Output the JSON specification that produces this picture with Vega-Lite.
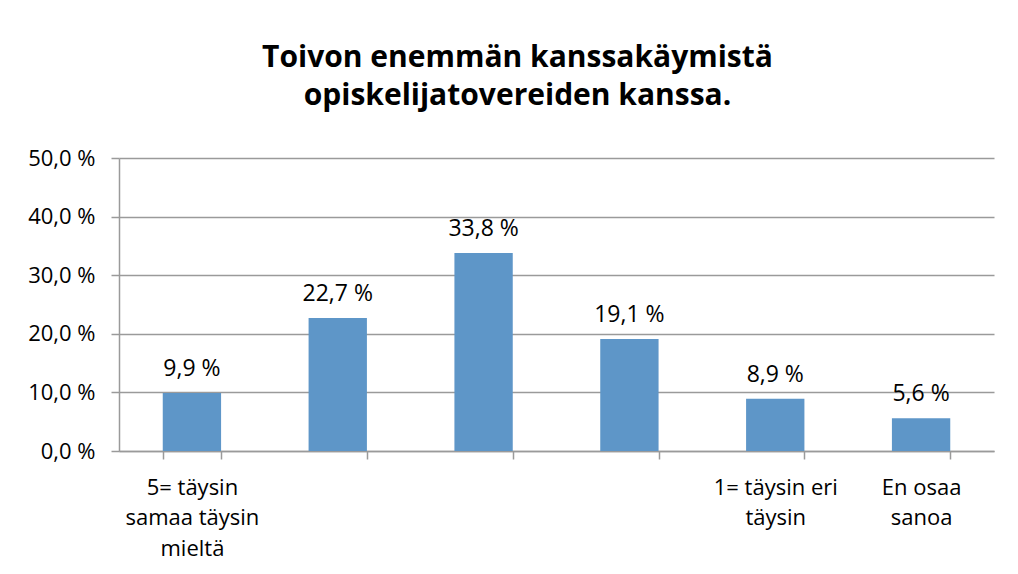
{
  "$schema": "https://vega.github.io/schema/vega-lite/v6.json",
  "width": 875,
  "height": 293,
  "autosize": {"type": "none"},
  "padding": {"left": 119, "top": 158, "right": 24, "bottom": 123},
  "background": "white",
  "title": {
    "text": ["Toivon enemmän kanssakäymistä", "opiskelijatovereiden kanssa."],
    "font": "Open Sans",
    "fontSize": 30,
    "fontWeight": "bold",
    "color": "black",
    "lineHeight": 38,
    "anchor": "middle",
    "offset": 36,
    "dx": -39
  },
  "data": {
    "values": [
      {"cat": "5= täysin|samaa täysin|mieltä", "v": 9.9, "label": "9,9 %"},
      {"cat": "4", "v": 22.7, "label": "22,7 %"},
      {"cat": "3", "v": 33.8, "label": "33,8 %"},
      {"cat": "2", "v": 19.1, "label": "19,1 %"},
      {"cat": "1= täysin eri|täysin", "v": 8.9, "label": "8,9 %"},
      {"cat": "En osaa|sanoa", "v": 5.6, "label": "5,6 %"}
    ]
  },
  "encoding": {
    "x": {
      "field": "cat",
      "type": "nominal",
      "sort": null,
      "scale": {"paddingInner": 0.6, "paddingOuter": 0.3},
      "axis": {
        "title": null,
        "labelAngle": 0,
        "labelExpr": "isString(datum.value) && length(datum.value) > 2 ? split(datum.value, '|') : ''",
        "labelFont": "Open Sans",
        "labelFontSize": 22,
        "labelColor": "black",
        "labelLineHeight": 30.5,
        "labelBaseline": "top",
        "labelPadding": 18,
        "labelLimit": 0,
        "tickBand": "extent",
        "tickSize": 8,
        "tickColor": "#9a9a9a",
        "tickWidth": 1.5,
        "domainColor": "#9a9a9a",
        "domainWidth": 1.5,
        "grid": false
      }
    },
    "y": {
      "field": "v",
      "type": "quantitative",
      "scale": {"domain": [0, 50], "nice": false},
      "axis": {
        "title": null,
        "values": [0, 10, 20, 30, 40, 50],
        "labelExpr": "isNumber(datum.value) ? replace(format(datum.value, '.1f'), '.', ',') + ' %' : ''",
        "labelFont": "Open Sans",
        "labelFontSize": 22,
        "labelColor": "black",
        "labelPadding": 16,
        "tickSize": 8,
        "tickColor": "#9a9a9a",
        "tickWidth": 1.5,
        "domainColor": "#9a9a9a",
        "domainWidth": 1.5,
        "grid": true,
        "gridColor": "#9a9a9a",
        "gridWidth": 1.5
      }
    }
  },
  "layer": [
    {"mark": {"type": "bar", "color": "#5E96C8"}},
    {
      "mark": {"type": "text", "font": "Open Sans", "fontSize": 23, "color": "black", "baseline": "alphabetic", "dy": -17},
      "encoding": {"text": {"field": "label"}}
    }
  ],
  "config": {"view": {"stroke": null}}
}
